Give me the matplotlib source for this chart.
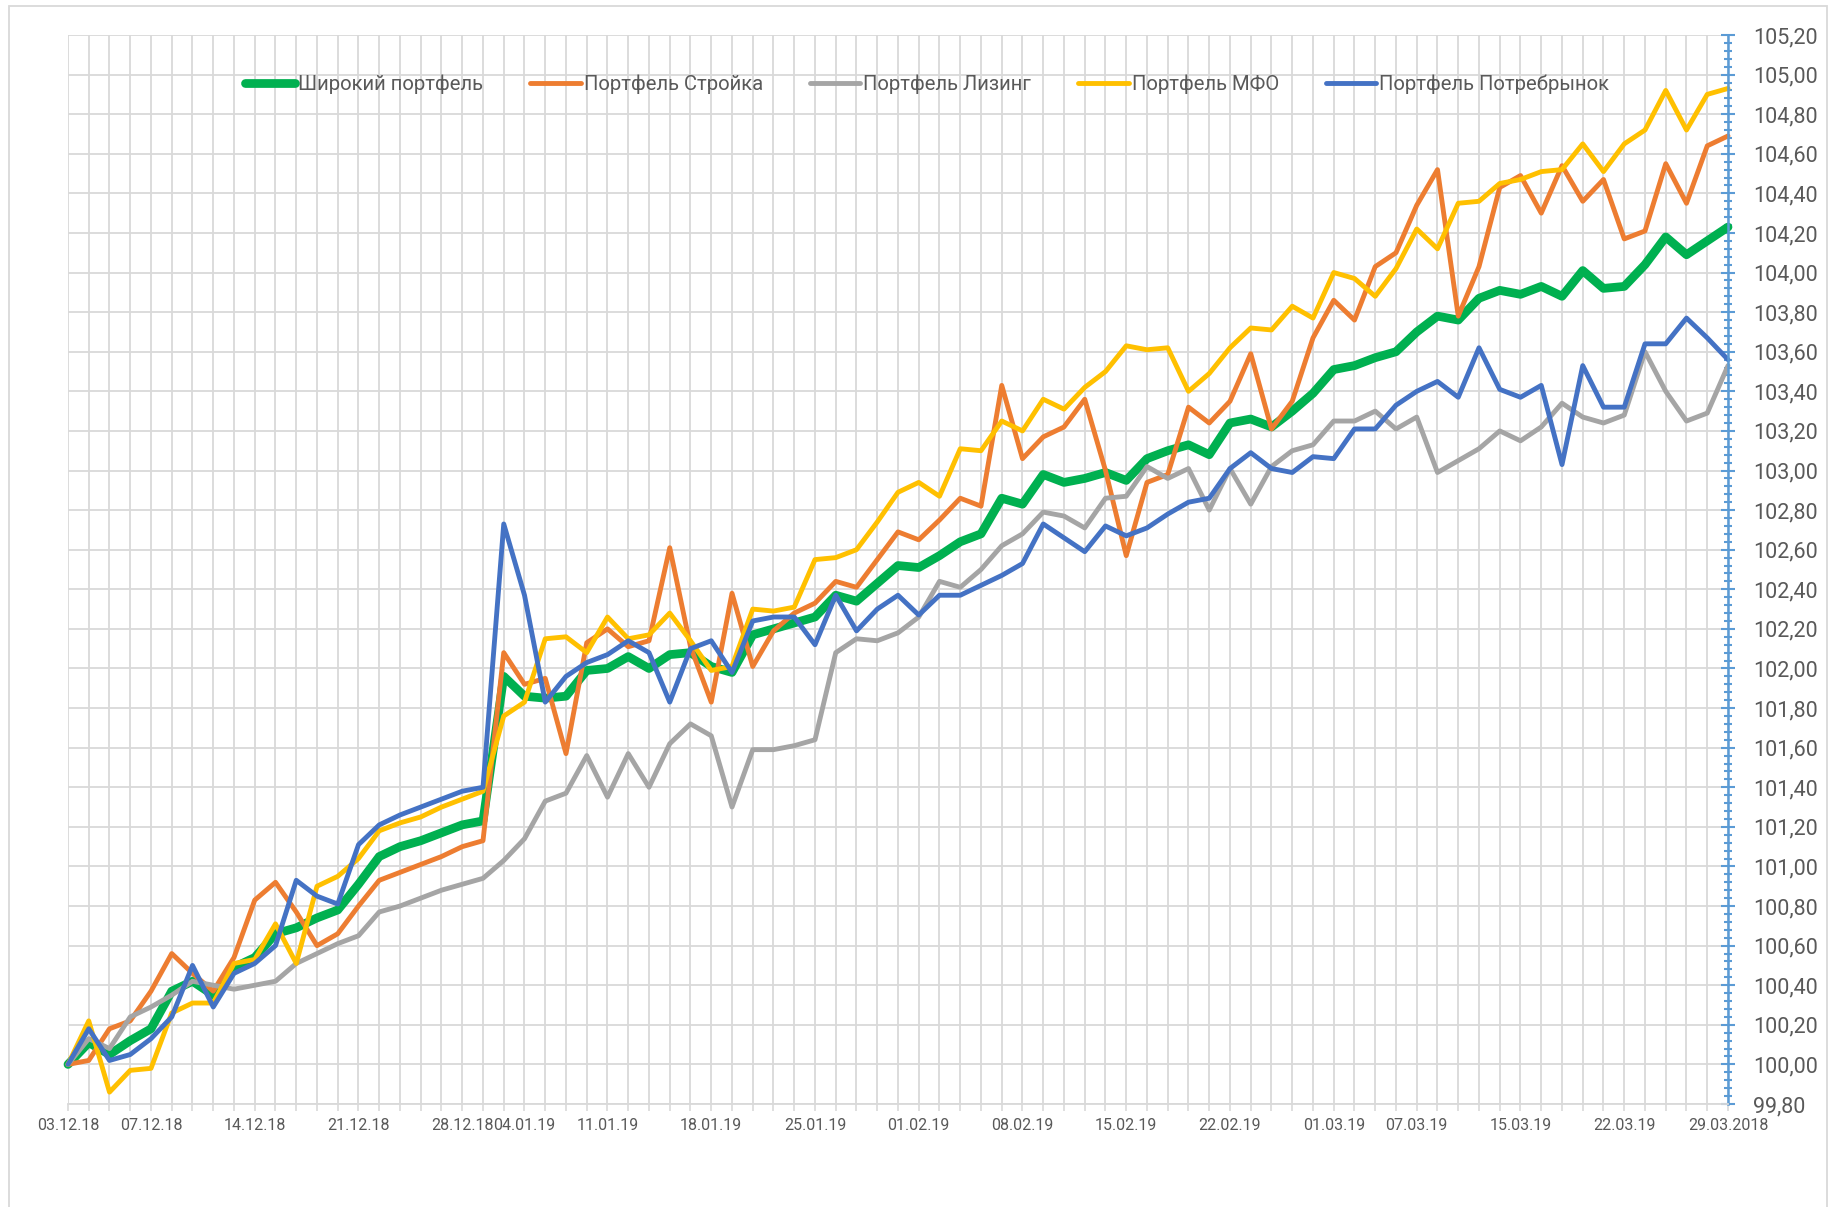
import matplotlib
matplotlib.use('Agg')
import numpy as np
import matplotlib.pyplot as plt
from matplotlib.ticker import FuncFormatter
from matplotlib.patches import Rectangle

# ---- data ----
broad = [100.00, 100.11, 100.05, 100.12, 100.18, 100.37, 100.42, 100.35, 100.49, 100.54,
         100.66, 100.69, 100.74, 100.78, 100.91, 101.05, 101.10, 101.13, 101.17, 101.21,
         101.23, 101.96, 101.86, 101.85, 101.86, 101.99, 102.00, 102.06, 102.00, 102.07,
         102.08, 102.01, 101.98, 102.17, 102.20, 102.23, 102.26, 102.37, 102.34, 102.43,
         102.52, 102.51, 102.57, 102.64, 102.68, 102.86, 102.83, 102.98, 102.94, 102.96,
         102.99, 102.95, 103.06, 103.10, 103.13, 103.08, 103.24, 103.26, 103.22, 103.30,
         103.39, 103.51, 103.53, 103.57, 103.60, 103.70, 103.78, 103.76, 103.87, 103.91,
         103.89, 103.93, 103.88, 104.01, 103.92, 103.93, 104.04, 104.18, 104.09, 104.16,
         104.23]

stroyka = [100.00, 100.02, 100.18, 100.22, 100.37, 100.56, 100.46, 100.37, 100.54, 100.83,
           100.92, 100.77, 100.60, 100.66, 100.80, 100.93, 100.97, 101.01, 101.05, 101.10,
           101.13, 102.08, 101.92, 101.95, 101.57, 102.13, 102.20, 102.11, 102.14, 102.61,
           102.11, 101.83, 102.38, 102.01, 102.19, 102.28, 102.33, 102.44, 102.41, 102.55,
           102.69, 102.65, 102.75, 102.86, 102.82, 103.43, 103.06, 103.17, 103.22, 103.36,
           103.00, 102.57, 102.94, 102.98, 103.32, 103.24, 103.35, 103.59, 103.21, 103.35,
           103.67, 103.86, 103.76, 104.03, 104.10, 104.34, 104.52, 103.78, 104.03, 104.43,
           104.49, 104.30, 104.54, 104.36, 104.47, 104.17, 104.21, 104.55, 104.35, 104.64,
           104.69]

leasing = [100.00, 100.13, 100.08, 100.24, 100.29, 100.35, 100.42, 100.40, 100.38, 100.40,
           100.42, 100.51, 100.56, 100.61, 100.65, 100.77, 100.80, 100.84, 100.88, 100.91,
           100.94, 101.03, 101.14, 101.33, 101.37, 101.56, 101.35, 101.57, 101.40, 101.62,
           101.72, 101.66, 101.30, 101.59, 101.59, 101.61, 101.64, 102.08, 102.15, 102.14,
           102.18, 102.26, 102.44, 102.41, 102.50, 102.62, 102.68, 102.79, 102.77, 102.71,
           102.86, 102.87, 103.02, 102.96, 103.01, 102.80, 103.01, 102.83, 103.02, 103.10,
           103.13, 103.25, 103.25, 103.30, 103.21, 103.27, 102.99, 103.05, 103.11, 103.20,
           103.15, 103.22, 103.34, 103.27, 103.24, 103.28, 103.60, 103.40, 103.25, 103.29,
           103.53]

mfo = [100.00, 100.22, 99.86, 99.97, 99.98, 100.26, 100.31, 100.31, 100.51, 100.53,
       100.71, 100.51, 100.90, 100.95, 101.04, 101.18, 101.22, 101.25, 101.30, 101.34,
       101.38, 101.76, 101.83, 102.15, 102.16, 102.08, 102.26, 102.15, 102.17, 102.28,
       102.14, 101.99, 102.01, 102.30, 102.29, 102.31, 102.55, 102.56, 102.60, 102.74,
       102.89, 102.94, 102.87, 103.11, 103.10, 103.25, 103.20, 103.36, 103.31, 103.42,
       103.50, 103.63, 103.61, 103.62, 103.40, 103.49, 103.62, 103.72, 103.71, 103.83,
       103.77, 104.00, 103.97, 103.88, 104.02, 104.22, 104.12, 104.35, 104.36, 104.45,
       104.47, 104.51, 104.52, 104.65, 104.51, 104.65, 104.72, 104.92, 104.72, 104.90,
       104.93]

consumer = [100.00, 100.18, 100.02, 100.05, 100.13, 100.24, 100.50, 100.29, 100.46, 100.51,
            100.60, 100.93, 100.85, 100.81, 101.11, 101.21, 101.26, 101.30, 101.34, 101.38,
            101.40, 102.73, 102.37, 101.83, 101.96, 102.03, 102.07, 102.14, 102.08, 101.83,
            102.10, 102.14, 101.98, 102.24, 102.26, 102.26, 102.12, 102.37, 102.19, 102.30,
            102.37, 102.27, 102.37, 102.37, 102.42, 102.47, 102.53, 102.73, 102.66, 102.59,
            102.72, 102.67, 102.71, 102.78, 102.84, 102.86, 103.01, 103.09, 103.01, 102.99,
            103.07, 103.06, 103.21, 103.21, 103.33, 103.40, 103.45, 103.37, 103.62, 103.41,
            103.37, 103.43, 103.03, 103.53, 103.32, 103.32, 103.64, 103.64, 103.77, 103.67,
            103.56]

# category positions that carry a date label
label_idx = [0, 4, 9, 14, 19, 22, 26, 31, 36, 41, 46, 51, 56, 61, 65, 70, 75, 80]
label_text = ['03.12.18', '07.12.18', '14.12.18', '21.12.18', '28.12.18', '04.01.19',
              '11.01.19', '18.01.19', '25.01.19', '01.02.19', '08.02.19', '15.02.19',
              '22.02.19', '01.03.19', '07.03.19', '15.03.19', '22.03.19', '29.03.2018']

series = [
    ('Широкий портфель', broad, '#00B050', 6.3),
    ('Портфель Стройка', stroyka, '#ED7D31', 3.5),
    ('Портфель Лизинг', leasing, '#A5A5A5', 3.5),
    ('Портфель МФО', mfo, '#FFC000', 3.5),
    ('Портфель Потребрынок', consumer, '#4472C4', 3.5),
]

plt.rcParams['font.family'] = ['Roboto', 'DejaVu Sans']

W, H = 1831, 1207
fig = plt.figure(figsize=(W / 100, H / 100), dpi=100, facecolor='white')
# plot area in pixels: x 68..1728, y 35..1104
ax = fig.add_axes([68 / W, 1 - 1104 / H, (1728 - 68) / W, (1104 - 35) / H])

# outer chart border (its bottom edge lies below the picture)
fig.patches.append(Rectangle((9 / W, -0.02), 1 - 13 / W, 1.02 - 6 / H, transform=fig.transFigure,
                             fill=False, edgecolor='#D9D9D9', linewidth=1.3))

x = np.arange(len(broad))
for name, vals, col, lw in series:
    ax.plot(x, vals, color=col, linewidth=lw, label=name, clip_on=False,
            solid_joinstyle='round', solid_capstyle='round')

ax.set_xlim(0, len(broad) - 1)
ax.set_ylim(99.8, 105.2)

# x axis: a tick and a gridline for every category, dates on some of them
ax.set_xticks(x)
xlabels = [''] * len(x)
for i, t in zip(label_idx, label_text):
    xlabels[i] = t
ax.set_xticklabels(xlabels)
ax.tick_params(axis='x', direction='out', length=5, width=1.2, color='#D9D9D9',
               labelsize=11.5, labelcolor='#595959', pad=5)

# y axis on the right
ax.yaxis.tick_right()
ax.set_yticks(np.round(np.arange(99.8, 105.2 + 1e-9, 0.2), 2))
ax.set_yticks(np.round(np.arange(99.8, 105.2 + 1e-9, 0.04), 2), minor=True)
ax.yaxis.set_major_formatter(FuncFormatter(lambda v, p: f'{v:.2f}'.replace('.', ',')))
ax.tick_params(axis='y', which='major', direction='inout', length=10, width=1.5,
               color='#5B9BD5', labelsize=15.5, labelcolor='#595959', pad=13)
ax.tick_params(axis='y', which='minor', direction='inout', length=6, width=1.5,
               color='#5B9BD5')

ax.grid(True, which='major', color='#D9D9D9', linewidth=1.3)
ax.set_axisbelow(True)

for s in ['left', 'top']:
    ax.spines[s].set_visible(False)
ax.spines['bottom'].set_color('#D9D9D9')
ax.spines['bottom'].set_linewidth(1.3)
ax.spines['right'].set_color('#5B9BD5')
ax.spines['right'].set_linewidth(1.8)

leg = ax.legend(loc='center', bbox_to_anchor=(0.5175, 0.954), ncol=5, frameon=False,
                fontsize=14.6, handlelength=2.5, handletextpad=0.15, columnspacing=2.3)
for t in leg.get_texts():
    t.set_color('#595959')

fig.savefig('out.png', dpi=100, facecolor='white')
